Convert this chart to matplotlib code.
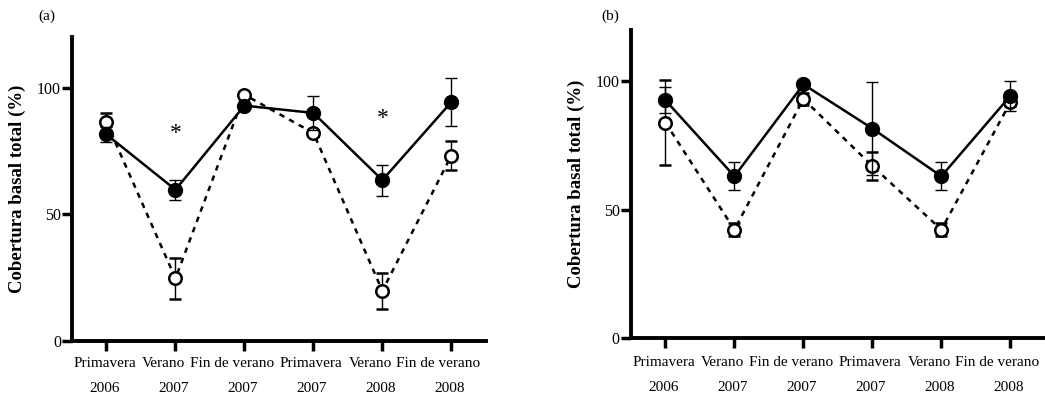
import numpy as np
import matplotlib.pyplot as plt

plt.rcParams['font.family'] = ['Liberation Serif', 'DejaVu Serif']

estaciones = ['Primavera', 'Verano', 'Fin de verano', 'Primavera', 'Verano', 'Fin de verano']
anios = ['2006', '2007', '2007', '2007', '2008', '2008']

# panel (a)
a_lleno = [81.5, 59.7, 92.9, 90.0, 63.5, 94.3]
a_lleno_err = [3.0, 4.0, 1.0, 6.6, 6.1, 9.5]
a_vacio = [86.3, 24.7, 97.2, 82.1, 19.8, 73.2]
a_vacio_err = [3.7, 8.0, 1.0, 1.0, 7.0, 5.7]
a_asteriscos = [(1, 82.0), (4, 87.7)]

# panel (b)
b_lleno = [92.6, 63.0, 98.8, 81.6, 63.0, 94.3]
b_lleno_err = [5.0, 5.5, 1.0, 18.0, 5.5, 6.0]
b_vacio = [83.9, 42.2, 93.1, 67.0, 42.2, 91.8]
b_vacio_err = [16.5, 2.4, 2.5, 5.5, 2.4, 1.5]

# corrimiento horizontal (px) de cada nombre de estacion para que no se pisen
desplaz = [-2, -12, -12, -2, -12, -13]

fig = plt.figure(figsize=(10.45, 3.98), dpi=100)
ax1 = fig.add_axes([0.0689, 0.1432, 0.396, 0.764])
ax2 = fig.add_axes([0.6038, 0.1508, 0.396, 0.774])


def panel(ax, lleno, lleno_err, vacio, vacio_err, asteriscos, baja):
    x = np.arange(len(estaciones))
    ax.errorbar(x, vacio, yerr=vacio_err, fmt='o', ls=(0, (2.2, 2.2)), color='black',
                mfc='white', mec='black', mew=1.8, ms=9, lw=1.8,
                elinewidth=1, capsize=4, capthick=1, zorder=2)
    ax.errorbar(x, lleno, yerr=lleno_err, fmt='o-', color='black',
                ms=10, lw=1.8, elinewidth=1, capsize=4, capthick=1, zorder=3)
    for xi, yi in asteriscos:
        ax.text(xi, yi, '*', ha='center', va='center', fontsize=17)
    ax.set_xlim(-0.5, 5.5)
    ax.set_ylim(0, 120)
    ax.set_yticks([0, 50, 100])
    ax.set_xticks(x)
    ax.set_xticklabels([])
    for xi, est, an, d in zip(x, estaciones, anios, desplaz):
        ax.annotate(est, (xi, 0), xycoords=('data', 'axes fraction'),
                    xytext=(d * 0.72, -baja * 0.72), textcoords='offset points',
                    ha='center', va='center', fontsize=11)
        ax.annotate(an, (xi, 0), xycoords=('data', 'axes fraction'),
                    xytext=(-2 * 0.72, -(baja + 25) * 0.72), textcoords='offset points',
                    ha='center', va='center', fontsize=11)
    ax.tick_params(axis='y', labelsize=11.5, width=2.5, length=7, pad=1)
    ax.tick_params(axis='x', width=2.5, length=7)
    for s in ['top', 'right']:
        ax.spines[s].set_visible(False)
    for s in ['left', 'bottom']:
        ax.spines[s].set_linewidth(2.8)
    ax.set_ylabel('Cobertura basal total (%)', fontsize=13.5, fontweight='bold', labelpad=8)


panel(ax1, a_lleno, a_lleno_err, a_vacio, a_vacio_err, a_asteriscos, 22)
panel(ax2, b_lleno, b_lleno_err, b_vacio, b_vacio_err, [], 25)

fig.text(47 / 1045, 1 - 16 / 398, '(a)', fontsize=11, ha='center', va='center')
fig.text(610 / 1045, 1 - 16 / 398, '(b)', fontsize=11, ha='center', va='center')

fig.savefig('out.png', dpi=100)
